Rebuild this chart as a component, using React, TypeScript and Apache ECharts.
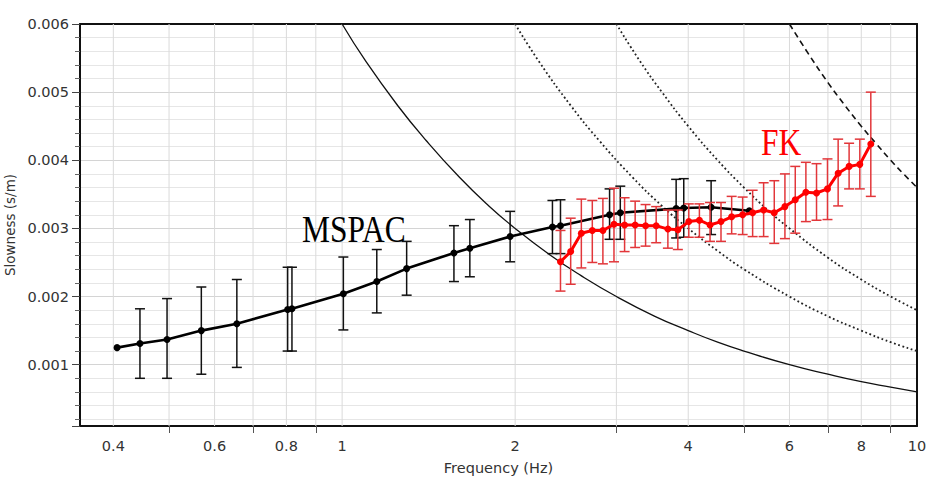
import React, { useEffect, useRef } from 'react';
import * as echarts from 'echarts';

// MSPAC dispersion estimate (black)
const mspacFreq = [0.406, 0.445, 0.496, 0.569, 0.656, 0.804, 0.818, 1.005, 1.149, 1.295, 1.565, 1.668, 1.96, 2.322, 2.398, 2.919, 3.047, 3.811, 3.929, 4.384, 5.108];
const mspacSlow = [0.00125, 0.00131, 0.00137, 0.0015, 0.0016, 0.00181, 0.00182, 0.00204, 0.00222, 0.00241, 0.00264, 0.00271, 0.00288, 0.00302, 0.00304, 0.0032, 0.00323, 0.00329, 0.0033, 0.00331, 0.00326];
const mspacLow = [null, 0.0008, 0.0008, 0.00086, 0.00096, 0.0012, 0.0012, 0.00151, 0.00176, 0.00202, 0.00222, 0.00229, 0.00251, 0.00263, 0.00263, 0.00284, 0.00284, 0.00286, 0.00287, 0.00291, null];
const mspacHigh = [null, 0.00182, 0.00197, 0.00214, 0.00225, 0.00243, 0.00243, 0.00258, 0.00269, 0.00281, 0.00304, 0.00313, 0.00325, 0.00341, 0.00342, 0.00358, 0.00362, 0.00372, 0.00373, 0.0037, null];

// FK dispersion estimate (red)
const fkFreq = [2.398, 2.498, 2.607, 2.724, 2.842, 2.971, 3.1, 3.234, 3.372, 3.518, 3.687, 3.837, 4.009, 4.183, 4.365, 4.561, 4.76, 4.974, 5.177, 5.41, 5.646, 5.892, 6.141, 6.408, 6.687, 6.987, 7.292, 7.619, 7.953, 8.311];
const fkSlow = [0.00251, 0.00266, 0.00293, 0.00297, 0.00297, 0.00306, 0.00305, 0.00305, 0.00304, 0.00304, 0.00299, 0.00298, 0.0031, 0.00312, 0.00305, 0.0031, 0.00317, 0.0032, 0.00323, 0.00327, 0.00323, 0.00332, 0.00342, 0.00353, 0.00352, 0.00358, 0.00381, 0.00391, 0.00394, 0.00424];
const fkLow = [0.00208, 0.00218, 0.00242, 0.0025, 0.00248, 0.00251, 0.00266, 0.00272, 0.00274, 0.00279, 0.00271, 0.00269, 0.00287, 0.00287, 0.00281, 0.00281, 0.00292, 0.00291, 0.00288, 0.00288, 0.00278, 0.00285, 0.00293, 0.0031, 0.00312, 0.00313, 0.00333, 0.00358, 0.00358, 0.00347];
const fkHigh = [0.00297, 0.00315, 0.00343, 0.00341, 0.00344, 0.00359, 0.00345, 0.0034, 0.00335, 0.00332, 0.00327, 0.00327, 0.00336, 0.00336, 0.00338, 0.00338, 0.00347, 0.00346, 0.00356, 0.00367, 0.0037, 0.0038, 0.00391, 0.00397, 0.00395, 0.00402, 0.00431, 0.00425, 0.00431, 0.005];

// Limit curves
const solidFreq = [1.0, 1.1, 1.25, 1.4, 1.6, 1.8, 2, 2.3, 2.6, 3, 3.5, 4, 4.5, 5, 6, 7, 8, 9, 10];
const solidSlow = [0.006, 0.00545, 0.0048, 0.00429, 0.00375, 0.00333, 0.003, 0.00261, 0.00231, 0.002, 0.00171, 0.0015, 0.00133, 0.0012, 0.001, 0.00086, 0.00075, 0.00067, 0.0006];
const dotted1Freq = [2, 2.2, 2.5, 2.8, 3.2, 3.6, 4, 4.5, 5, 6, 7, 8, 9, 10];
const dotted1Slow = [0.006, 0.00545, 0.0048, 0.00429, 0.00375, 0.00333, 0.003, 0.00267, 0.0024, 0.002, 0.00171, 0.0015, 0.00133, 0.0012];
const dotted2Freq = [3, 3.3, 3.6, 4, 4.5, 5, 5.5, 6, 7, 8, 9, 10];
const dotted2Slow = [0.006, 0.00545, 0.005, 0.0045, 0.004, 0.0036, 0.00327, 0.003, 0.00257, 0.00225, 0.002, 0.0018];
const dashedFreq = [6, 6.5, 7, 7.5, 8, 8.5, 9, 9.5, 10];
const dashedSlow = [0.006, 0.00554, 0.00514, 0.0048, 0.0045, 0.00424, 0.004, 0.00379, 0.0036];

// Axes
const xTickLabels = [0.4, 0.6, 0.8, 1, 2, 4, 6, 8, 10];
const xMinorTicks = [0.5, 0.7, 0.9, 3, 5, 7, 9];
const xGridValues = [0.4, 0.5, 0.6, 0.7, 0.8, 0.9, 1, 2, 3, 4, 5, 6, 7, 8, 9];
const yTickLabels = [0.001, 0.002, 0.003, 0.004, 0.005, 0.006];
const xMin = 0.35;
const xMax = 10;
const yMin = 0.0001;
const yMax = 0.006;

function pairs(fs: number[], ss: number[]) {
  return fs.map((f, i) => [f, ss[i]]);
}

function errorBars(freq: number[], low: (number | null)[], high: (number | null)[], color: string, z: number) {
  const data: number[][] = [];
  freq.forEach((f, i) => {
    const lo = low[i];
    const hi = high[i];
    if (lo != null && hi != null) data.push([f, lo, hi]);
  });
  return {
    type: 'custom',
    xAxisIndex: 0,
    yAxisIndex: 0,
    z,
    silent: true,
    data,
    encode: { x: 0, y: [1, 2] },
    renderItem: (params: any, api: any) => {
      const f = api.value(0);
      const lo = api.coord([f, api.value(1)]);
      const hi = api.coord([f, api.value(2)]);
      const hw = 5;
      const style = { stroke: color, lineWidth: 1.5, fill: 'none' };
      return {
        type: 'group',
        children: [
          { type: 'line', shape: { x1: lo[0], y1: lo[1], x2: hi[0], y2: hi[1] }, style },
          { type: 'line', shape: { x1: lo[0] - hw, y1: lo[1], x2: lo[0] + hw, y2: lo[1] }, style },
          { type: 'line', shape: { x1: hi[0] - hw, y1: hi[1], x2: hi[0] + hw, y2: hi[1] }, style },
        ],
      };
    },
  };
}

function curve(fs: number[], ss: number[], type: any, width: number, color: string) {
  return {
    type: 'line',
    xAxisIndex: 0,
    yAxisIndex: 0,
    z: 2,
    silent: true,
    data: pairs(fs, ss),
    smooth: true,
    showSymbol: false,
    symbol: 'none',
    lineStyle: { color, width, type },
  };
}

export default function App() {
  const ref = useRef<HTMLDivElement>(null);
  useEffect(() => {
    if (!ref.current) return;
    const chart = echarts.init(ref.current, undefined, { renderer: 'svg' });
    const labelFont = { fontFamily: '"DejaVu Sans", Verdana, sans-serif', fontSize: 14.5, color: '#333' };
    const frameLine = { show: true, onZero: false, lineStyle: { color: '#111', width: 2 } };
    const option: any = {
      animation: false,
      backgroundColor: '#fff',
      grid: {
        left: 80,
        right: 12,
        top: 24,
        bottom: 52,
        containLabel: false,
        outerBoundsMode: 'none',
      },
      xAxis: [
        {
          type: 'log',
          logBase: 10,
          min: xMin,
          max: xMax,
          show: false,
          axisLine: { show: false, onZero: false },
          splitLine: { show: false },
        },
        {
          type: 'value',
          position: 'bottom',
          min: Math.log10(xMin),
          max: Math.log10(xMax),
          axisLine: frameLine,
          splitLine: { show: false },
          axisTick: {
            show: true,
            inside: false,
            length: 7,
            customValues: xMinorTicks.map((v) => Math.log10(v)),
            lineStyle: { color: '#555', width: 1 },
          },
          axisLabel: {
            ...labelFont,
            margin: 12,
            customValues: xTickLabels.map((v) => Math.log10(v)),
            formatter: (v: number) => String(Math.round(Math.pow(10, v) * 10) / 10),
          },
          name: 'Frequency (Hz)',
          nameLocation: 'middle',
          nameGap: 34,
          nameTextStyle: { ...labelFont },
        },
        {
          type: 'value',
          position: 'top',
          min: Math.log10(xMin),
          max: Math.log10(xMax),
          axisLine: frameLine,
          axisTick: { show: false },
          axisLabel: { show: false },
          splitLine: { show: false },
        },
      ],
      yAxis: [
        {
          type: 'value',
          position: 'left',
          min: yMin,
          max: yMax,
          splitNumber: 6,
          axisLine: frameLine,
          axisTick: { show: true, inside: false, length: 8, lineStyle: { color: '#444', width: 1 } },
          minorTick: { show: true, splitNumber: 5, length: 5, lineStyle: { color: '#666', width: 1 } },
          splitLine: { show: true, lineStyle: { color: '#d4d4d4', width: 1 } },
          minorSplitLine: { show: true, lineStyle: { color: '#e6e6e6', width: 1 } },
          axisLabel: {
            ...labelFont,
            margin: 11,
            formatter: (v: number) => {
              const hit = yTickLabels.find((t) => Math.abs(t - v) < 1e-9);
              return hit != null ? hit.toFixed(3) : '';
            },
          },
          name: 'Slowness (s/m)',
          nameLocation: 'middle',
          nameGap: 56,
          nameTextStyle: { ...labelFont, fontSize: 13.5 },
        },
        {
          type: 'value',
          position: 'right',
          min: yMin,
          max: yMax,
          axisLine: frameLine,
          axisTick: { show: false },
          axisLabel: { show: false },
          splitLine: { show: false },
        },
      ],
      graphic: [
        {
          type: 'text',
          x: 302,
          y: 229,
          scaleX: 0.85,
          z: 100,
          style: {
            text: 'MSPAC',
            fontFamily: '"Liberation Serif", "Times New Roman", serif',
            fontSize: 37,
            fill: '#000',
            align: 'left',
            verticalAlign: 'middle',
          },
        },
        {
          type: 'text',
          x: 761,
          y: 142.5,
          scaleX: 0.85,
          z: 100,
          style: {
            text: 'FK',
            fontFamily: '"Liberation Serif", "Times New Roman", serif',
            fontSize: 37,
            fill: '#ff0000',
            align: 'left',
            verticalAlign: 'middle',
          },
        },
      ],
      series: [
        {
          type: 'custom',
          xAxisIndex: 0,
          yAxisIndex: 0,
          z: 1,
          silent: true,
          data: xGridValues.map((v) => [v]),
          encode: { x: 0 },
          renderItem: (params: any, api: any) => {
            const x = api.coord([api.value(0), yMax])[0];
            const cs = params.coordSys;
            return {
              type: 'line',
              shape: { x1: x, y1: cs.y, x2: x, y2: cs.y + cs.height },
              style: { stroke: '#dadada', lineWidth: 1 },
            };
          },
        },
        curve(solidFreq, solidSlow, 'solid', 1.3, '#111'),
        curve(dotted1Freq, dotted1Slow, [1.8, 2.6], 1.8, '#222'),
        curve(dotted2Freq, dotted2Slow, [1.8, 2.6], 1.8, '#222'),
        curve(dashedFreq, dashedSlow, [6, 4], 1.6, '#111'),
        errorBars(mspacFreq, mspacLow, mspacHigh, '#111', 3),
        {
          type: 'line',
          xAxisIndex: 0,
          yAxisIndex: 0,
          z: 4,
          silent: true,
          data: pairs(mspacFreq, mspacSlow),
          symbol: 'circle',
          symbolSize: 7,
          showSymbol: true,
          lineStyle: { color: '#000', width: 2.6 },
          itemStyle: { color: '#000' },
        },
        errorBars(fkFreq, fkLow, fkHigh, '#e2363a', 5),
        {
          type: 'line',
          xAxisIndex: 0,
          yAxisIndex: 0,
          z: 6,
          silent: true,
          data: pairs(fkFreq, fkSlow),
          symbol: 'circle',
          symbolSize: 7,
          showSymbol: true,
          lineStyle: { color: '#ff0000', width: 3 },
          itemStyle: { color: '#ff0000' },
        },
      ],
    };
    chart.setOption(option);
    return () => {
      chart.dispose();
    };
  }, []);
  return (
    <div
      ref={ref}
      style={{ position: 'fixed', left: 0, top: 0, width: 929, height: 478, background: '#fff' }}
    />
  );
}
